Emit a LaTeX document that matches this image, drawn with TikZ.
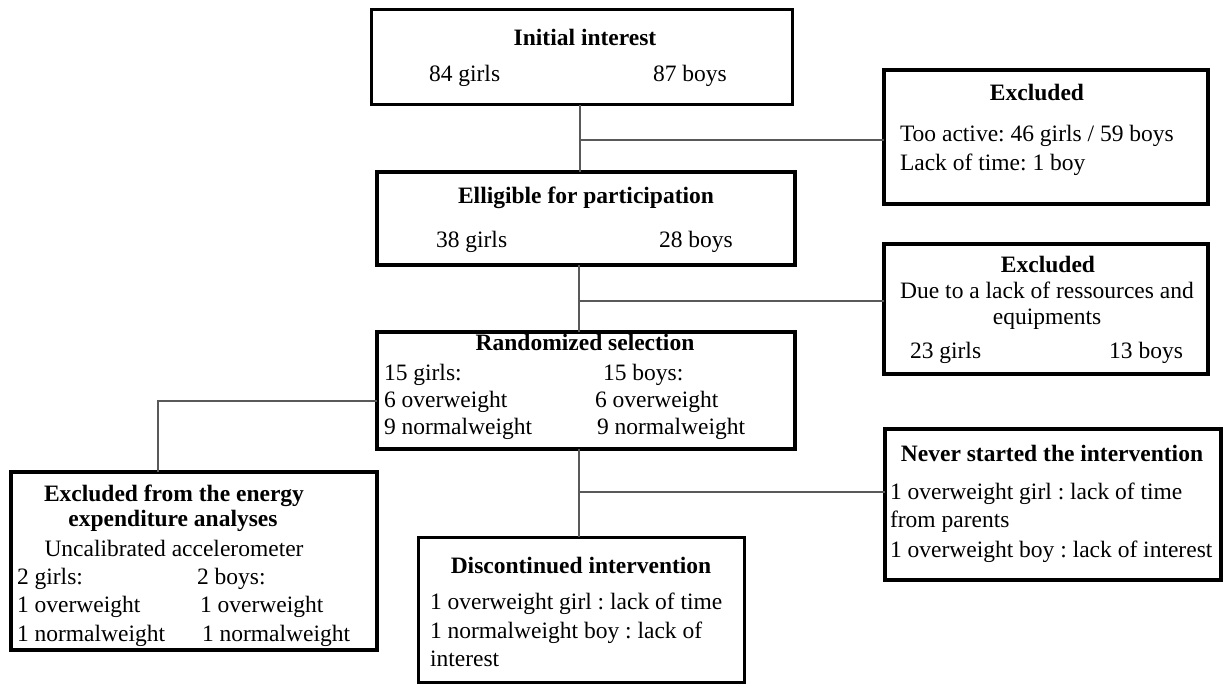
\documentclass[tikz,border=0pt]{standalone}
\usepackage{fontspec}
\setmainfont{Liberation Serif}
\frenchspacing
\begin{document}
\begin{tikzpicture}[x=1pt,y=-1pt,
  box/.style={draw=black, line width=4pt, inner sep=0pt, outer sep=0pt, anchor=north west},
  thinbox/.style={box, line width=3pt},
  conn/.style={draw=black!65, line width=1.5pt},
  txt/.style={inner sep=0pt, outer sep=0pt, font=\fontsize{23.5}{28}\selectfont, anchor=base west},
  ttl/.style={inner sep=0pt, outer sep=0pt, font=\fontsize{23.5}{28}\selectfont\bfseries, anchor=base},
  ctr/.style={txt, anchor=base},
  rgt/.style={txt, anchor=base east}]
\useasboundingbox (0,0) rectangle (1224,684);

% boxes
\node[thinbox, minimum width=421pt, minimum height=95pt] (b1) at (371,10) {};
\node[box, minimum width=418pt, minimum height=93pt] (b2) at (377,172) {};
\node[box, minimum width=324pt, minimum height=134pt] (e1) at (884,70) {};
\node[box, minimum width=324pt, minimum height=130pt] (e2) at (884,244) {};
\node[box, minimum width=418pt, minimum height=117pt] (r) at (377,332) {};
\node[box, minimum width=366pt, minimum height=178pt] (en) at (11,472) {};
\node[thinbox, minimum width=326pt, minimum height=145pt] (d) at (418,537) {};
\node[box, minimum width=336pt, minimum height=151pt] (nv) at (885,429) {};

% connectors
\coordinate (j1) at (580,140);
\coordinate (j2) at (579,301);
\coordinate (j3) at (579,492);
\coordinate (k) at (158,401);
\draw[conn] (b1.south -| j1) -- (b2.north -| j1);
\draw[conn] (j1) -- (j1 -| e1.west);
\draw[conn] (b2.south -| j2) -- (r.north -| j2);
\draw[conn] (j2) -- (j2 -| e2.west);
\draw[conn] (r.west |- k) -- (k) -- (k |- en.north);
\draw[conn] (r.south -| j3) -- (d.north -| j3);
\draw[conn] (j3) -- (j3 -| nv.west);

% texts: Initial interest
\node[ttl] (t1) at (585,46) {Initial interest};
\node[txt] (t1a) at (429,82) {84 girls};
\node[txt] (t1b) at (653,82) {87 boys};

% Elligible
\node[ttl] (t2) at (586,204) {Elligible for participation};
\node[txt] (t2a) at (436,248) {38 girls};
\node[txt] (t2b) at (659,248) {28 boys};

% Excluded 1
\node[ttl] (te1) at (1037,101) {Excluded};
\node[txt] (te1a) at (900,142) {Too active: 46 girls / 59 boys};
\node[txt] (te1b) at (900,171) {Lack of time: 1 boy};

% Excluded 2
\node[ttl] (te2) at (1048,273) {Excluded};
\node[ctr] (te2a) at (1047,299) {Due to a lack of ressources and};
\node[ctr] (te2b) at (1047,325) {equipments};
\node[txt] (te2c) at (910,359) {23 girls};
\node[rgt] (te2d) at (1183,359) {13 boys};

% Randomized
\node[ttl] (tr) at (585,351) {Randomized selection};
\node[txt] (tr1) at (384,381) {15 girls:};
\node[txt] (tr2) at (603,381) {15 boys:};
\node[txt] (tr3) at (384,408) {6 overweight};
\node[txt] (tr4) at (595,408) {6 overweight};
\node[txt] (tr5) at (384,435) {9 normalweight};
\node[txt] (tr6) at (597,435) {9 normalweight};

% Energy
\node[ttl] (ten) at (174,501) {Excluded from the energy};
\node[ttl] (ten1) at (173,526) {expenditure analyses};
\node[ctr] (ten2) at (174,556) {Uncalibrated accelerometer};
\node[txt] (ten3) at (17,584) {2 girls:};
\node[txt] (ten4) at (197,584) {2 boys:};
\node[txt] (ten5) at (17,612) {1 overweight};
\node[txt] (ten6) at (200,612) {1 overweight};
\node[txt] (ten7) at (17,641) {1 normalweight};
\node[txt] (ten8) at (202,641) {1 normalweight};

% Discontinued
\node[ttl] (td) at (581,573) {Discontinued intervention};
\node[txt] (td1) at (430,609) {1 overweight girl : lack of time};
\node[txt] (td2) at (430,638) {1 normalweight boy : lack of};
\node[txt] (td3) at (430,666) {interest};

% Never started
\node[ttl] (tn) at (1052,462) {Never started the intervention};
\node[txt] (tn1) at (890,499) {1 overweight girl : lack of time};
\node[txt] (tn2) at (890,527) {from parents};
\node[txt] (tn3) at (890,557) {1 overweight boy : lack of interest};
\end{tikzpicture}
\end{document}
